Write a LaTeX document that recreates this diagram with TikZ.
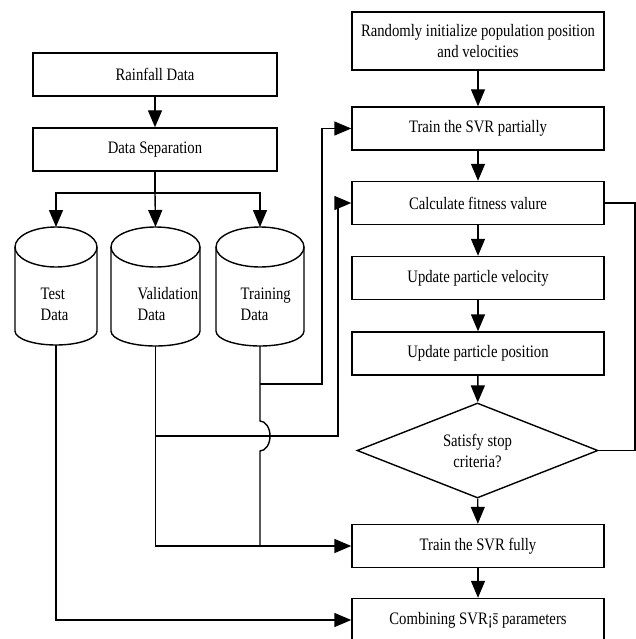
\documentclass[tikz,border=0pt]{standalone}
\usepackage{fontspec}
\setmainfont{Liberation Serif}[FakeStretch=0.84]
\usetikzlibrary{arrows.meta,shapes.geometric}

\tikzset{
  box/.style={draw, line width=1.4pt, minimum height=43pt, inner sep=2pt, align=center},
  lbox/.style={box, minimum width=244pt},
  rbox/.style={box, minimum width=252pt},
  dia/.style={draw, diamond, line width=1.4pt, minimum width=241pt, minimum height=95pt, aspect=2.5, inner sep=0pt, align=center},
  arr/.style={-{Triangle[length=17pt,width=14pt]}},
  lbl/.style={anchor=west, align=left, inner sep=0pt}
}

\begin{document}
\begin{tikzpicture}[x=1pt, y=-1pt, line width=1.4pt, font=\fontsize{17.5pt}{21pt}\selectfont]
        \useasboundingbox (0,0) rectangle (636,639);
        %Rainfall
        \node[lbox] (rain) at (155,74.5) {Rainfall Data};
        \node[lbox] (sep) at (155,149.5) {Data Separation};
        \draw[arr] (rain) -- (sep);
        \coordinate (split) at (155,193);
        \draw (sep) -- (split);
        % Test
        \draw (56,247) ellipse [x radius=41, y radius=20];
        \draw (15,247) -- (15,331) arc[start angle=180, end angle=0, x radius=41, y radius=14] -- (97,247);
        \coordinate (testtop) at (56,227);
        \coordinate (testbot) at (56,345);
        \node[lbl] (testlbl) at (40,304) {Test\\Data};
        % Validation
        \draw (155.5,247) ellipse [x radius=44.5, y radius=20];
        \draw (111,247) -- (111,331) arc[start angle=180, end angle=0, x radius=44.5, y radius=15] -- (200,247);
        \coordinate (valtop) at (155.5,227);
        \coordinate (valbot) at (155.5,346);
        \node[lbl] (vallbl) at (137,304) {Validation\\Data};
        % Training
        \draw (260,247) ellipse [x radius=44, y radius=20];
        \draw (216,247) -- (216,331) arc[start angle=180, end angle=0, x radius=44, y radius=15] -- (304,247);
        \coordinate (traintop) at (260,227);
        \coordinate (trainbot) at (260,346);
        \node[lbl] (trainlbl) at (240,304) {Training\\Data};
        \draw[arr] (split) -| (testtop);
        \draw[arr] (split) -- (valtop);
        \draw[arr] (split) -| (traintop);
        % PSO
        \node[rbox, minimum height=58pt] (init) at (478,41) {Randomly initialize population position\\and velocities};
        \node[rbox] (part) at (478,128.5) {Train the SVR partially};
        \node[rbox] (fit) at (478,203) {Calculate fitness valure};
        \node[rbox] (vel) at (478,278) {Update particle velocity};
        \node[rbox] (pos) at (478,353.5) {Update particle position};
        \node[dia] (stop) at (477.5,450.5) {Satisfy stop\\criteria?};
        \node[rbox] (full) at (478,546) {Train the SVR fully};
        \node[rbox] (comb) at (478,620) {Combining SVR¡\={s} parameters};
        \draw[arr] (init) -- (part);
        \draw[arr] (part) -- (fit);
        \draw[arr] (fit) -- (vel);
        \draw[arr] (vel) -- (pos);
        \draw[arr] (pos) -- (stop);
        \draw[arr] (stop) -- (full);
        \draw[arr] (full) -- (comb);
        % Loop
        \coordinate (loop) at (635,0);
        \draw (fit.east) -| (loop |- stop.east) -- (stop.east);
        % Data lines
        \draw[arr] (testbot) |- (comb.west);
        \draw[arr] (valbot) |- (full.west);
        \coordinate (vbr) at (155.5,436);
        \coordinate (vturn) at (338,436);
        \draw[arr] (vbr) -- (vturn) |- (fit.west);
        \coordinate (tbr) at (260,384);
        \coordinate (tturn) at (322,384);
        \draw[arr] (tbr) -- (tturn) |- (part.west);
        \draw (trainbot) -- (260,421) arc[start angle=-90, end angle=90, x radius=10, y radius=15] -- (trainbot |- full.west);
    \end{tikzpicture}
\end{document}
